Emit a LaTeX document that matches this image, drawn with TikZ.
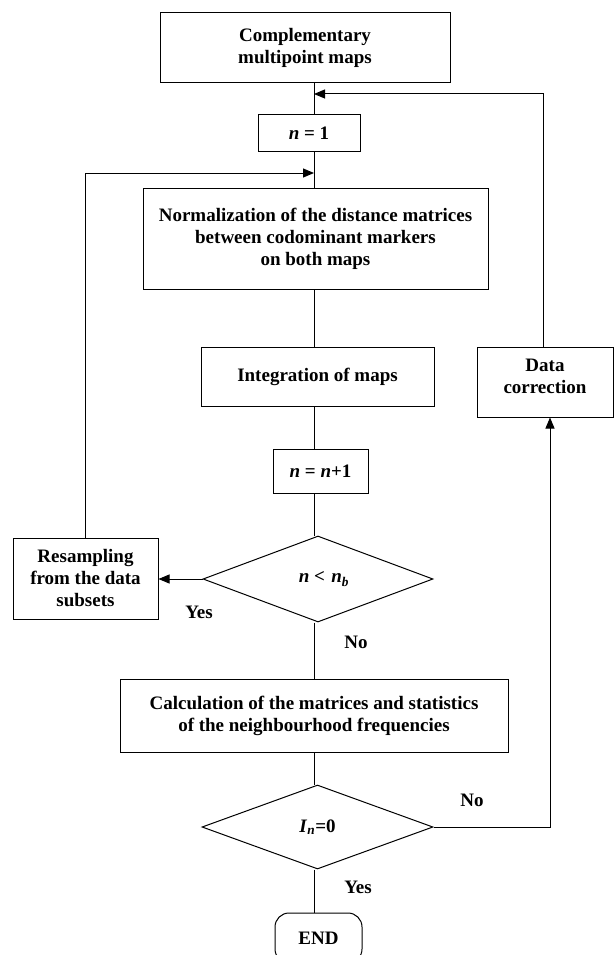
\documentclass[tikz,border=0pt]{standalone}
\usepackage{fontspec}
\setmainfont{Liberation Serif}
\usetikzlibrary{shapes.geometric,arrows.meta}
\begin{document}
\begin{tikzpicture}[x=1pt,y=-1pt,
  every node/.style={font=\fontsize{19}{22}\selectfont\bfseries},
  box/.style={draw,line width=1pt,inner sep=0pt,align=center},
  dia/.style={draw,diamond,line width=1pt,inner sep=0pt,align=center},
  lbl/.style={inner sep=0pt},
  ln/.style={line width=1pt},
  arr/.style={line width=1pt,-{Triangle[length=11pt,width=9pt]}}]
\useasboundingbox (0,0) rectangle (615,955);
\fill[white] (0,0) rectangle (615,955);
\coordinate (sp) at (314,0);
\coordinate (rx) at (550,0);
\coordinate (j1) at (314,94);
\coordinate (j2) at (314,173);

\node[box,minimum width=290pt,minimum height=70pt] (top) at (305,48) {Complementary\\multipoint maps};
\node[box,minimum width=102pt,minimum height=36pt] (n1) at (309,133) {\textit{n} = 1};
\node[box,minimum width=345pt,minimum height=101pt] (norm) at (315.5,238.5) {Normalization of the distance matrices\\between codominant markers\\on both maps};
\node[box,minimum width=233pt,minimum height=59pt] (integ) at (317.5,376.5) {Integration of maps};
\node[box,minimum width=95pt,minimum height=44pt] (nn1) at (320.5,471) {\textit{n} = \textit{n}+1};
\node[box,minimum width=136pt,minimum height=70pt] (dc) at (545,382) {};
\node[lbl,align=center] (dct) at (545,376) {Data\\correction};
\node[box,minimum width=145pt,minimum height=81pt] (res) at (85.5,578.5) {Resampling\\from the data\\subsets};
\node[dia,minimum width=230pt,minimum height=86pt] (d1) at (318,579) {\hspace*{12pt}\textit{n} <\,\,\textit{n}\textsubscript{\textit{b}}};
\node[box,minimum width=388pt,minimum height=73pt] (calc) at (314,716) {Calculation of the matrices and statistics\\of the neighbourhood frequencies};
\node[dia,minimum width=231pt,minimum height=84pt] (d2) at (317.5,827) {\textit{I}\textsubscript{\textit{n}}=0};
\node[box,rounded corners=14pt,minimum width=87pt,minimum height=50pt] (end) at (318.5,938) {END};

\node[lbl] (yes1) at (199,612) {Yes};
\node[lbl] (no1) at (356,642) {No};
\node[lbl] (no2) at (472,800) {No};
\node[lbl] (yes2) at (358,887) {Yes};

\draw[ln] (top.south -| sp) -- (n1.north -| sp);
\draw[ln] (n1.south -| sp) -- (norm.north -| sp);
\draw[ln] (norm.south -| sp) -- (integ.north -| sp);
\draw[ln] (integ.south -| sp) -- (nn1.north -| sp);
\draw[ln] (nn1.south -| sp) -- (d1.north -| sp);
\draw[ln] (d1.south -| sp) -- (calc.north -| sp);
\draw[ln] (calc.south -| sp) -- (d2.north -| sp);
\draw[ln] (d2.south -| sp) -- (end.north -| sp);

\draw[arr] (d1.west) -- (d1.west -| res.east);
\draw[arr] (res.north) |- (j2);
\draw[arr] (d2.east) -| (dc.south -| rx);
\draw[arr] ([xshift=-2pt]dc.north) |- (j1);
\end{tikzpicture}
\end{document}
